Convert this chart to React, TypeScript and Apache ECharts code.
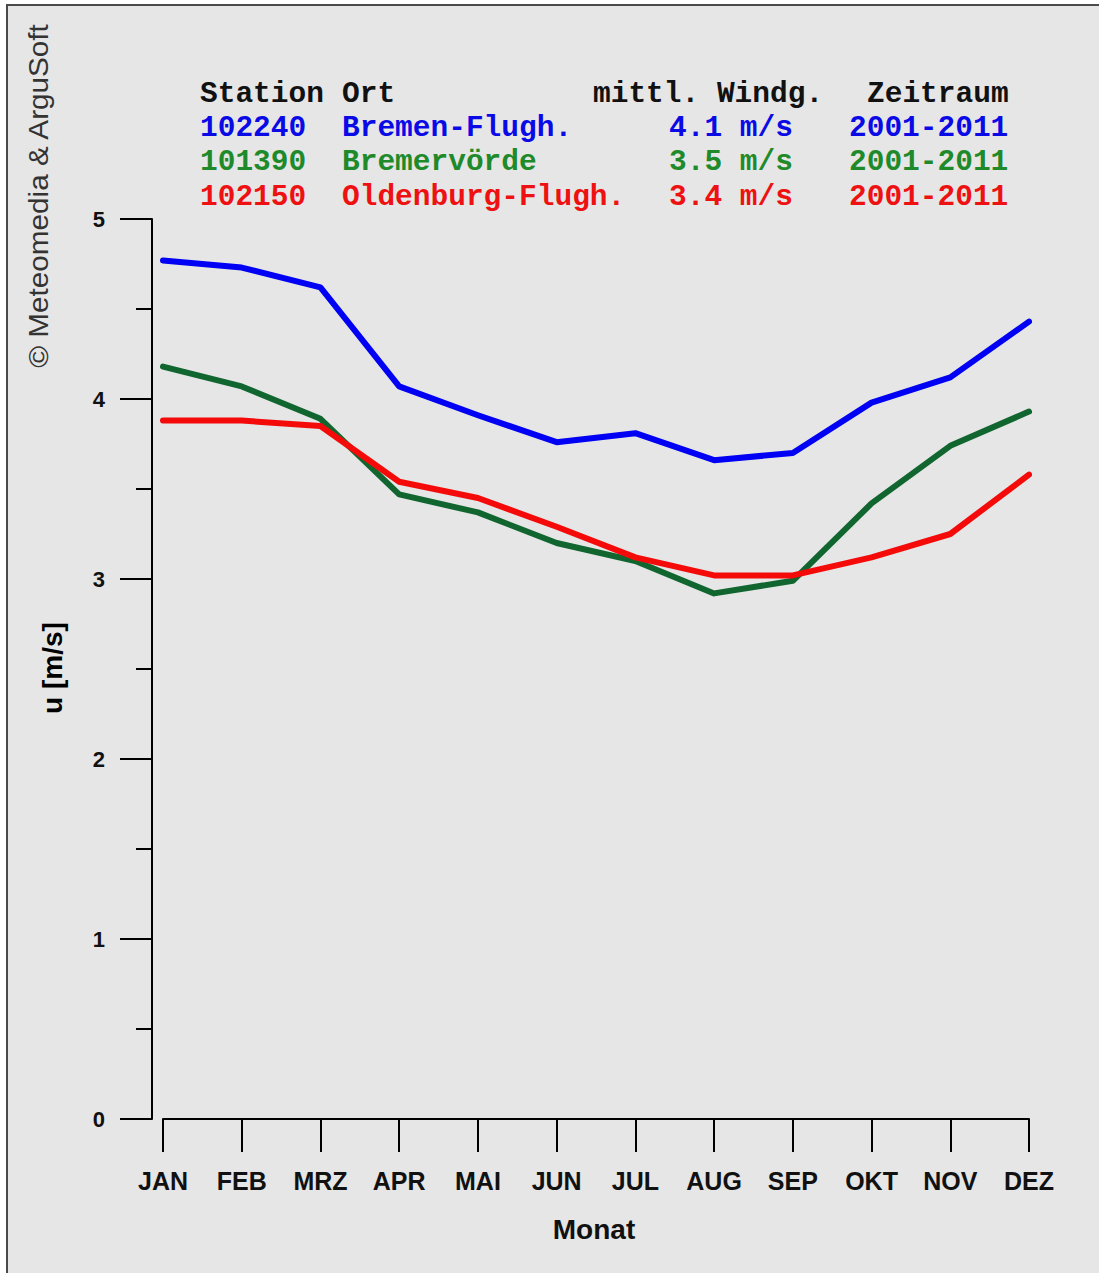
import React, { useEffect, useRef } from "react";
import * as echarts from "echarts";

// Monthly mean wind speed at three stations (m/s)
const months = ["JAN", "FEB", "MRZ", "APR", "MAI", "JUN", "JUL", "AUG", "SEP", "OKT", "NOV", "DEZ"];
const bremenFlugh = [4.77, 4.73, 4.62, 4.07, 3.91, 3.76, 3.81, 3.66, 3.70, 3.98, 4.12, 4.43];
const bremervoerde = [4.18, 4.07, 3.89, 3.47, 3.37, 3.20, 3.10, 2.92, 2.99, 3.42, 3.74, 3.93];
const oldenburgFlugh = [3.88, 3.88, 3.85, 3.54, 3.45, 3.29, 3.12, 3.02, 3.02, 3.12, 3.25, 3.58];

// Station table shown above the plot
const headers = ["Station", "Ort", "mittl. Windg.", "Zeitraum"];
const stationIds = ["102240", "101390", "102150"];
const stationNames = ["Bremen-Flugh.", "Bremervörde", "Oldenburg-Flugh."];
const meanSpeeds = ["4.1 m/s", "3.5 m/s", "3.4 m/s"];
const periods = ["2001-2011", "2001-2011", "2001-2011"];

const lineColors = ["#0000f5", "#116630", "#f50a0a"];
const textColors = ["#0a0ae6", "#1f8a2a", "#ee1111"];
const seriesData = [bremenFlugh, bremervoerde, oldenburgFlugh];

const MONO = "'Liberation Mono', 'Courier New', monospace";
const SANS = "'Liberation Sans', Arial, sans-serif";

export default function App() {
  const ref = useRef<HTMLDivElement>(null);

  useEffect(() => {
    if (!ref.current) return;
    const chart = echarts.init(ref.current, undefined, { renderer: "svg" });

    const colX = [200, 342, 593, 867];
    const rowY = [93.5, 127.5, 162, 196.5];
    const valueX = [200, 342, 669, 849];

    const tableTexts: any[] = [];
    headers.forEach((h, i) => {
      tableTexts.push({
        type: "text",
        x: colX[i],
        y: rowY[0],
        style: { text: h, font: `bold 29.5px ${MONO}`, fill: "#111", align: "left", verticalAlign: "middle" },
      });
    });
    stationIds.forEach((id, r) => {
      const cells = [id, stationNames[r], meanSpeeds[r], periods[r]];
      cells.forEach((c, i) => {
        tableTexts.push({
          type: "text",
          x: valueX[i],
          y: rowY[r + 1],
          style: { text: c, font: `bold 29.5px ${MONO}`, fill: textColors[r], align: "left", verticalAlign: "middle" },
        });
      });
    });

    chart.setOption({
      animation: false,
      backgroundColor: "#ffffff",
      grid: { left: 163, right: 70, top: 219, bottom: 154 },
      graphic: [
        {
          type: "rect",
          z: -10,
          silent: true,
          shape: { x: 7, y: 5, width: 1100, height: 1280 },
          style: { fill: "#e6e6e6", stroke: "#4a4a4a", lineWidth: 2 },
        },
        {
          type: "text",
          x: 38,
          y: 196,
          rotation: Math.PI / 2,
          scaleX: 1.1,
          style: {
            text: "© Meteomedia & ArguSoft",
            font: `27px ${SANS}`,
            fill: "#333",
            align: "center",
            verticalAlign: "middle",
          },
        },
        {
          type: "text",
          x: 52,
          y: 668,
          rotation: Math.PI / 2,
          style: { text: "u [m/s]", font: `bold 28px ${SANS}`, fill: "#000", align: "center", verticalAlign: "middle" },
        },
        {
          type: "text",
          x: 594,
          y: 1229,
          style: { text: "Monat", font: `bold 28px ${SANS}`, fill: "#111", align: "center", verticalAlign: "middle" },
        },
        ...tableTexts,
      ],
      xAxis: {
        type: "category",
        data: months,
        boundaryGap: false,
        axisLine: { show: true, lineStyle: { color: "#000", width: 2 } },
        axisTick: { show: true, length: 33, alignWithLabel: true, lineStyle: { color: "#000", width: 2 } },
        axisLabel: { margin: 49, color: "#111", fontFamily: SANS, fontWeight: "bold", fontSize: 25 },
        splitLine: { show: false },
      },
      yAxis: {
        type: "value",
        min: 0,
        max: 5,
        interval: 1,
        offset: 11,
        axisLine: { show: true, lineStyle: { color: "#000", width: 2 } },
        axisTick: { show: true, length: 32, lineStyle: { color: "#000", width: 2 } },
        minorTick: { show: true, splitNumber: 2, length: 16, lineStyle: { color: "#000", width: 2 } },
        axisLabel: { margin: 47, color: "#111", fontFamily: SANS, fontWeight: "bold", fontSize: 22 },
        splitLine: { show: false },
      },
      series: seriesData.map((d, i) => ({
        type: "line",
        data: d,
        showSymbol: false,
        symbol: "none",
        z: 2 + i,
        lineStyle: { color: lineColors[i], width: 6, cap: "round", join: "round" },
      })),
    });

    return () => chart.dispose();
  }, []);

  return (
    <div
      ref={ref}
      style={{ position: "absolute", left: 0, top: 0, width: 1099, height: 1273 }}
    />
  );
}
